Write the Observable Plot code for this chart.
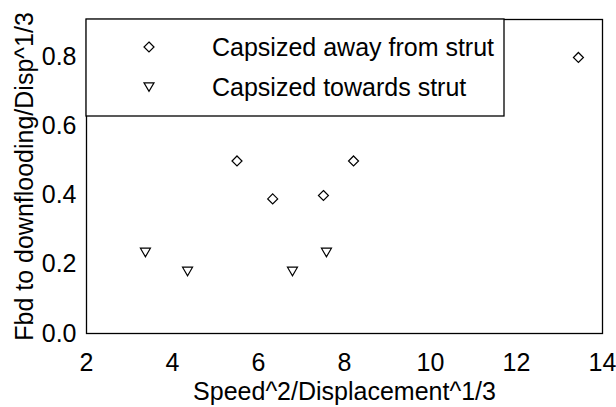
<!DOCTYPE html>
<html>
<head>
<meta charset="utf-8">
<script src="https://cdn.jsdelivr.net/npm/d3@7"></script>
<script src="https://cdn.jsdelivr.net/npm/@observablehq/plot@0.6"></script>
<style>
  html, body { margin: 0; padding: 0; background: #fff; }
  #chart { width: 616px; height: 407px; }
</style>
</head>
<body>
<div id="chart"></div>
<script>
// Data
const awayX = [5.5, 6.33, 7.51, 8.21, 13.44];
const awayY = [0.5, 0.39, 0.40, 0.5, 0.80];
const towardsX = [3.37, 4.35, 6.79, 7.58];
const towardsY = [0.235, 0.18, 0.18, 0.235];
const seriesNames = ["Capsized away from strut", "Capsized towards strut"];
const xTicks = [2, 4, 6, 8, 10, 12, 14];
const yTicks = [0.0, 0.2, 0.4, 0.6, 0.8];
const xLabel = "Speed^2/Displacement^1/3";
const yLabel = "Fbd to downflooding/Disp^1/3";

const away = awayX.map((x, i) => ({x, y: awayY[i]}));
const towards = towardsX.map((x, i) => ({x, y: towardsY[i]}));

const diamond = {draw(ctx) { ctx.moveTo(0, -5); ctx.lineTo(5, 0); ctx.lineTo(0, 5); ctx.lineTo(-5, 0); ctx.closePath(); }};
const triDown = {draw(ctx) { ctx.moveTo(-5, -4.2); ctx.lineTo(5, -4.2); ctx.lineTo(0, 4.4); ctx.closePath(); }};

const font = "'Liberation Sans', Arial, sans-serif";
const fs = 25;

const chart = Plot.plot({
  width: 616,
  height: 407,
  marginLeft: 86,
  marginRight: 14,
  marginTop: 19,
  marginBottom: 74,
  style: {fontFamily: font, fontSize: fs + "px", color: "#000", background: "#fff"},
  x: {domain: [2, 14], ticks: xTicks, tickFormat: d => String(d), tickSize: 0, tickPadding: 20, label: null},
  y: {domain: [0, 0.91], ticks: yTicks, tickFormat: d3.format(".1f"), tickSize: 0, tickPadding: 10, label: null},
  marks: [
    Plot.frame({stroke: "#000", strokeWidth: 1.3}),
    Plot.dot(away, {x: "x", y: "y", symbol: diamond, stroke: "#000", strokeWidth: 1.2, fill: "none"}),
    Plot.dot(towards, {x: "x", y: "y", symbol: triDown, stroke: "#000", strokeWidth: 1.2, fill: "none"}),
    Plot.text([xLabel], {frameAnchor: "bottom", dy: 58, text: d => d, fontSize: fs, lineAnchor: "middle", textAnchor: "middle"}),
    Plot.text([yLabel], {frameAnchor: "left", dx: -62, rotate: -90, text: d => d, fontSize: fs, lineAnchor: "middle", textAnchor: "middle"})
  ]
});

// Legend drawn into the same SVG
const svg = d3.select(chart);
const lg = svg.append("g");
lg.append("rect").attr("x", 86).attr("y", 19).attr("width", 418).attr("height", 97)
  .attr("fill", "#fff").attr("stroke", "#000").attr("stroke-width", 1.3);
const legendSymbols = [diamond, triDown];
seriesNames.forEach((name, i) => {
  const cy = 47 + i * 40;
  lg.append("path").attr("d", d3.symbol(legendSymbols[i])()).attr("transform", `translate(149,${cy})`)
    .attr("fill", "none").attr("stroke", "#000").attr("stroke-width", 1.2);
  lg.append("text").attr("x", 212).attr("y", cy).attr("dy", "0.35em").attr("text-anchor", "start")
    .attr("font-family", font).attr("font-size", fs).attr("fill", "#000").text(name);
});

document.getElementById("chart").appendChild(chart);
</script>
</body>
</html>
